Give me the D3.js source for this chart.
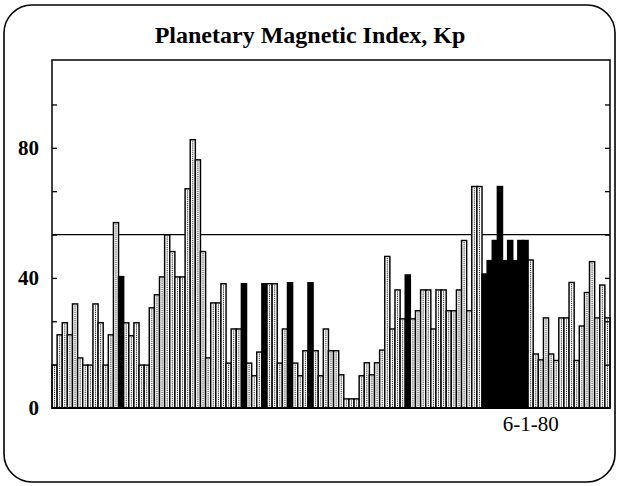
<!DOCTYPE html>
<html>
<head>
<meta charset="utf-8">
<script src="https://cdn.jsdelivr.net/npm/d3@7"></script>
<style>
  html, body { margin: 0; padding: 0; background: #fff; }
  svg { display: block; }
</style>
</head>
<body>
<svg id="chart" width="618" height="486"></svg>
<script>
// ---- data ----
const title = "Planetary Magnetic Index, Kp";

// daily values, left to right
const kp = [
  13.2, 22.5, 26.2, 22.5, 32.0, 15.4, 13.2, 13.2, 32.0, 26.2,
  13.2, 22.5, 57.0, 40.4, 26.2, 22.2, 26.2, 13.2, 13.2, 30.8,
  34.8, 40.3, 53.2, 48.1, 40.3, 40.3, 67.4, 82.5, 76.3, 48.1,
  15.4, 32.3, 32.3, 38.2, 13.8, 24.3, 24.3, 38.2, 13.8,  9.9,
  17.2, 38.2, 38.2, 38.2, 13.8, 24.3, 38.5, 13.8,  9.9, 17.6,
  38.5, 17.6,  9.9, 24.3, 17.6, 17.6, 10.2,  2.8,  2.8,  2.8,
   9.9, 13.9, 10.2, 13.9, 17.8, 46.6, 24.3, 36.3, 27.4, 40.9,
  27.4, 29.9, 36.3, 36.3, 24.3, 36.3, 36.3, 29.9, 29.9, 36.3,
  51.5, 29.9, 68.1, 68.1, 41.2, 45.3, 51.5, 68.1, 45.3, 51.5,
  45.3, 51.5, 51.5, 45.5, 16.6, 14.8, 27.7, 16.6, 14.6, 27.7,
  27.7, 38.6, 14.6, 25.2, 35.5, 45.0, 27.7, 37.8, 27.7
];

// days drawn solid black (1-based positions)
const blackDays = [14, 38, 42, 47, 51, 70, 85, 86, 87, 88, 89, 90, 91, 92, 93];

// reference level line
const refLevel = 53.3;

// axis ticks and labels
const yTickValues = [13.33, 26.67, 40, 53.33, 66.67, 80, 93.33];
const yLabels = [0, 40, 80];
const xLabelDays = [94];
const xLabelTexts = ["6-1-80"];

// ---- drawing ----
const svg = d3.select("#chart");
const L = 52, R = 610, T = 60, B = 408;

const days = d3.range(1, kp.length + 1);
const x = d3.scaleBand().domain(days).range([L, R]).padding(0);
const y = d3.scaleLinear().domain([0, 107]).range([B, T]);

// outer rounded border
svg.append("rect")
  .attr("x", 4).attr("y", 5).attr("width", 611).attr("height", 477)
  .attr("rx", 28).attr("ry", 28)
  .attr("fill", "#fff").attr("stroke", "#000").attr("stroke-width", 1.6);

// title
svg.append("text")
  .attr("x", 310).attr("y", 43)
  .attr("text-anchor", "middle")
  .attr("font-family", "'Liberation Serif', 'DejaVu Serif', serif")
  .attr("font-weight", "bold")
  .attr("font-size", 24)
  .text(title);

// reference line
svg.append("line")
  .attr("x1", L).attr("x2", R)
  .attr("y1", y(refLevel)).attr("y2", y(refLevel))
  .attr("stroke", "#000").attr("stroke-width", 1.3);

// bars
const data = kp.map((v, i) => ({ day: i + 1, v, black: blackDays.includes(i + 1) }));
const g = svg.append("g");
const bars = g.selectAll("g.bar").data(data).join("g").attr("class", "bar");

bars.append("rect")
  .attr("x", d => x(d.day))
  .attr("y", d => y(d.v))
  .attr("width", x.bandwidth())
  .attr("height", d => y(0) - y(d.v))
  .attr("fill", d => d.black ? "#000" : "#fff")
  .attr("stroke", "#000")
  .attr("stroke-width", 1.45);

bars.filter(d => !d.black).append("line")
  .attr("x1", d => x(d.day) + x.bandwidth() / 2)
  .attr("x2", d => x(d.day) + x.bandwidth() / 2)
  .attr("y1", d => y(d.v) + 1.5)
  .attr("y2", y(0))
  .attr("stroke", "#222")
  .attr("stroke-width", 1)
  .attr("stroke-dasharray", "1.2,0.9");

// plot frame
svg.append("rect")
  .attr("x", L).attr("y", T).attr("width", R - L).attr("height", B - T)
  .attr("fill", "none").attr("stroke", "#000").attr("stroke-width", 1.5);
svg.append("line")
  .attr("x1", L).attr("x2", R).attr("y1", B).attr("y2", B)
  .attr("stroke", "#000").attr("stroke-width", 2);

// inward ticks, left and right
const leftTicks = svg.append("g").attr("transform", `translate(${L},0)`)
  .call(d3.axisLeft(y).tickValues(yTickValues).tickSize(-5).tickFormat(""));
const rightTicks = svg.append("g").attr("transform", `translate(${R},0)`)
  .call(d3.axisRight(y).tickValues(yTickValues).tickSize(-5).tickFormat(""));
[leftTicks, rightTicks].forEach(a => {
  a.select(".domain").remove();
  a.selectAll(".tick line").attr("stroke", "#000").attr("stroke-width", 1.3);
});

// y labels
const yLab = svg.append("g").attr("transform", `translate(${L},0)`)
  .call(d3.axisLeft(y).tickValues(yLabels).tickSize(0).tickPadding(13).tickFormat(d3.format("d")));
yLab.select(".domain").remove();
yLab.selectAll("text")
  .attr("font-family", "'Liberation Serif', 'DejaVu Serif', serif")
  .attr("font-weight", "bold")
  .attr("font-size", 21)
  .attr("fill", "#000");

// x label
const xLab = svg.append("g").attr("transform", `translate(0,${B})`)
  .call(d3.axisBottom(x).tickValues(xLabelDays).tickSize(0).tickPadding(8)
    .tickFormat(d => xLabelTexts[xLabelDays.indexOf(d)]));
xLab.select(".domain").remove();
xLab.selectAll("text")
  .attr("font-family", "'Liberation Serif', 'DejaVu Serif', serif")
  .attr("font-size", 21)
  .attr("fill", "#000");
</script>
</body>
</html>
